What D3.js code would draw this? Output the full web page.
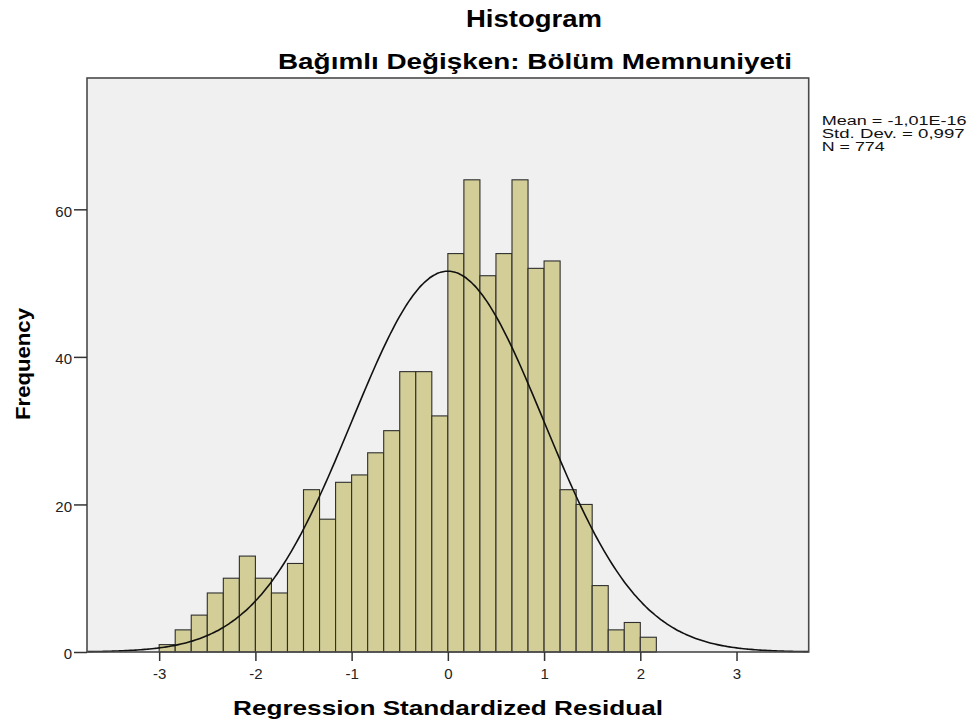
<!DOCTYPE html>
<html><head><meta charset="utf-8">
<script src="https://cdn.jsdelivr.net/npm/d3@7"></script>
<style>body{margin:0;background:#fff;} text{font-family:"Liberation Sans",Arial,sans-serif;}</style>
</head><body><svg id="c" width="974" height="726"></svg>
<script>
// ---- data ----
const binStart = -3;
const binWidth = 1/6;
const counts = [1,3,5,8,10,13,10,8,12,22,18,23,24,27,30,38,38,32,54,64,51,54,64,52,53,22,20,9,3,4,2];
const xTicks = [-3,-2,-1,0,1,2,3];
const yTicks = [0,20,40,60];
const statsLines = ["Mean = -1,01E-16","Std. Dev. = 0,997","N = 774"];
const mean = -1.01e-16, sd = 0.997, nObs = 774;
const titleText = "Histogram";
const subtitleText = "Bağımlı Değişken: Bölüm Memnuniyeti";
const xLabel = "Regression Standardized Residual";
const yLabel = "Frequency";

// ---- layout ----
const L = 87, T = 78, R = 808.7, B = 652;
const svg = d3.select("#c");
const x = d3.scaleLinear().domain([-3.75, 3.75]).range([L, R]);
const y = d3.scaleLinear().domain([0, 77.8]).range([B, T]);

svg.append("rect").attr("x", L).attr("y", T).attr("width", R - L).attr("height", B - T).attr("fill", "#f0f0f0");

const bins = counts.map((c, i) => ({x0: binStart + i * binWidth, x1: binStart + (i + 1) * binWidth, c}));
svg.append("g").selectAll("rect").data(bins).join("rect")
  .attr("x", d => x(d.x0)).attr("width", d => x(d.x1) - x(d.x0))
  .attr("y", d => y(d.c)).attr("height", d => y(0) - y(d.c))
  .attr("fill", "#d3ce97").attr("stroke", "#2e2e2e").attr("stroke-width", 1.1);

// normal curve from the stats
const scaleK = nObs * binWidth / (sd * Math.sqrt(2 * Math.PI));
const pts = d3.range(0, 301).map(i => {
  const v = -3.75 + i * 7.5 / 300;
  return [v, scaleK * Math.exp(-0.5 * ((v - mean) / sd) ** 2)];
});
svg.append("path").datum(pts)
  .attr("d", d3.line().x(d => x(d[0])).y(d => y(d[1])).curve(d3.curveBasis))
  .attr("fill", "none").attr("stroke", "#111").attr("stroke-width", 1.6);

// frame
svg.append("rect").attr("x", L).attr("y", T).attr("width", R - L).attr("height", B - T)
  .attr("fill", "none").attr("stroke", "#4a4a4a").attr("stroke-width", 1.6);

// axes
const xa = svg.append("g").attr("transform", `translate(0,${B})`)
  .call(d3.axisBottom(x).tickValues(xTicks).tickSize(9).tickSizeOuter(0).tickFormat(d3.format("d")));
xa.select(".domain").remove();
xa.selectAll("line").attr("stroke", "#333").attr("stroke-width", 1.5);
xa.selectAll("text").attr("font-size", 15).attr("fill", "#222").attr("dy", 0).attr("y", 27)
  .text(d => d < 0 ? "-" + Math.abs(d) : d);

const ya = svg.append("g").attr("transform", `translate(${L},0)`)
  .call(d3.axisLeft(y).tickValues(yTicks).tickSize(13).tickSizeOuter(0));
ya.select(".domain").remove();
ya.selectAll("line").attr("stroke", "#333").attr("stroke-width", 1.5);
ya.selectAll("text").attr("font-size", 15).attr("fill", "#222").attr("x", -15).attr("dy", "0.45em");

// titles
svg.append("text").attr("x", 534).attr("y", 26.5).attr("text-anchor", "middle")
  .attr("font-size", 23).attr("font-weight", "bold").attr("textLength", 136).attr("lengthAdjust", "spacingAndGlyphs").text(titleText);
svg.append("text").attr("x", 535).attr("y", 68.5).attr("text-anchor", "middle")
  .attr("font-size", 22).attr("font-weight", "bold").attr("textLength", 514).attr("lengthAdjust", "spacingAndGlyphs").text(subtitleText);
svg.append("text").attr("x", 448).attr("y", 715).attr("text-anchor", "middle")
  .attr("font-size", 21).attr("font-weight", "bold").attr("textLength", 430).attr("lengthAdjust", "spacingAndGlyphs").text(xLabel);
svg.append("text").attr("transform", "translate(30,364) rotate(-90)").attr("text-anchor", "middle")
  .attr("font-size", 20).attr("font-weight", "bold").attr("textLength", 112).attr("lengthAdjust", "spacingAndGlyphs").text(yLabel);

// stats
const statLens = [145, 143, 63];
svg.append("g").selectAll("text").data(statsLines).join("text")
  .attr("x", 821.7).attr("y", (d, i) => 124.5 + i * 13.2)
  .attr("font-size", 12).attr("fill", "#111")
  .attr("textLength", (d, i) => statLens[i]).attr("lengthAdjust", "spacingAndGlyphs")
  .text(d => d);
</script></body></html>
